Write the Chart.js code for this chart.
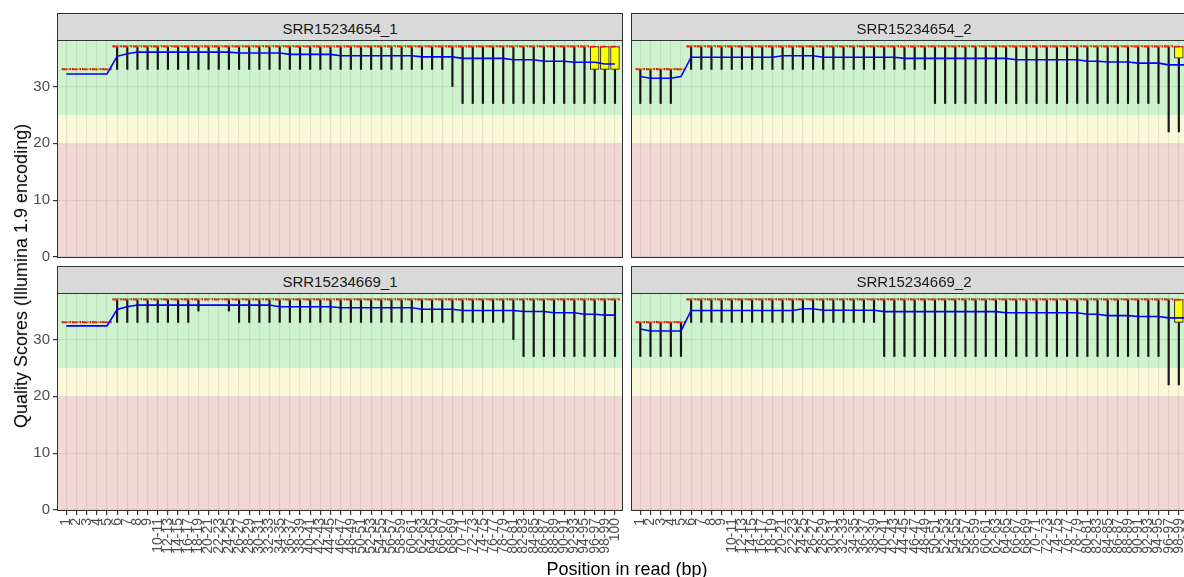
<!DOCTYPE html>
<html>
<head>
<meta charset="utf-8">
<script src="https://cdn.jsdelivr.net/npm/chart.js@4.4.1/dist/chart.umd.min.js"></script>
<style>
html,body{margin:0;padding:0;width:1184px;height:577px;overflow:hidden;background:#fff;font-family:"Liberation Sans",Arial,sans-serif;}
canvas{position:absolute;}
.strip{position:absolute;box-sizing:border-box;background:#D9D9D9;border:1px solid #333;height:28px;width:566px;
  font-size:15px;color:#1A1A1A;text-align:center;line-height:30px;white-space:nowrap;overflow:hidden;}
.title{position:absolute;font-size:18px;color:#000;white-space:nowrap;line-height:18px;}
</style>
</head>
<body>
<canvas id="c1" width="630" height="240" style="left:0;top:31px"></canvas>
<canvas id="c2" width="574" height="240" style="left:630px;top:31px"></canvas>
<canvas id="c3" width="630" height="293" style="left:0;top:284px"></canvas>
<canvas id="c4" width="574" height="293" style="left:630px;top:284px"></canvas>
<div class="strip" style="left:57px;top:13px;">SRR15234654_1</div>
<div class="strip" style="left:631px;top:13px;">SRR15234654_2</div>
<div class="strip" style="left:57px;top:266px;">SRR15234669_1</div>
<div class="strip" style="left:631px;top:266px;">SRR15234669_2</div>
<div class="title" style="left:627px;top:560px;transform:translateX(-50%);">Position in read (bp)</div>
<div class="title" style="left:21px;top:276px;transform:translate(-50%,-50%) rotate(-90deg);">Quality Scores (Illumina 1.9 encoding)</div>
<script>
// ---------- data ----------
const positions = ["1","2","3","4","5","6","7","8","9","10-11","12-13","14-15","16-17","18-19","20-21","22-23","24-25","26-27","28-29","30-31","32-33","34-35","36-37","38-39","40-41","42-43","44-45","46-47","48-49","50-51","52-53","54-55","56-57","58-59","60-61","62-63","64-65","66-67","68-69","70-71","72-73","74-75","76-77","78-79","80-81","82-83","84-85","86-87","88-89","90-91","92-93","94-95","96-97","98-99","100"];

// median (also upper quartile and 90th percentile in every panel)
const medianAll = [33,33,33,33,33,37,37,37,37,37, 37,37,37,37,37,37,37,37,37,37, 37,37,37,37,37,37,37,37,37,37, 37,37,37,37,37,37,37,37,37,37, 37,37,37,37,37,37,37,37,37,37, 37,37,37,37,37];

// SRR15234654_1
const s1_mean = [32.2,32.2,32.2,32.2,32.2,35.3,35.75,36.05,36.05,36.05, 36.05,36.05,36.05,36.05,36.05,36.05,36.05,35.9,35.9,35.9, 35.9,35.9,35.65,35.65,35.65,35.65,35.65,35.4,35.4,35.4, 35.4,35.4,35.4,35.4,35.4,35.2,35.2,35.2,35.2,34.95, 34.95,34.95,34.95,34.95,34.7,34.7,34.7,34.45,34.45,34.45, 34.25,34.25,34.25,33.95,33.95];
const s1_q1 = [33,33,33,33,33,37,37,37,37,37, 37,37,37,37,37,37,37,37,37,37, 37,37,37,37,37,37,37,37,37,37, 37,37,37,37,37,37,37,37,37,37, 37,37,37,37,37,37,37,37,37,37, 37,37,33,33,33];
const s1_p10 = [33,33,33,33,33,33,33,33,33,33, 33,33,33,33,33,33,33,33,33,33, 33,33,33,33,33,33,33,33,33,33, 33,33,33,33,33,33,33,33,30,27, 27,27,27,27,27,27,27,27,27,27, 27,27,27,27,27];

// SRR15234654_2
const s2_mean = [31.75,31.45,31.45,31.45,31.75,35.15,35.15,35.15,35.15,35.15, 35.15,35.15,35.15,35.15,35.4,35.4,35.4,35.4,35.15,35.15, 35.15,35.15,35.15,35.15,35.15,35.15,34.95,34.95,34.95,34.95, 34.95,34.95,34.95,34.95,34.95,34.95,34.95,34.7,34.7,34.7, 34.7,34.7,34.7,34.7,34.45,34.45,34.3,34.3,34.3,34.1, 34.1,34.1,33.8,33.8,33.8];
const s2_q1 = [33,33,33,33,33,37,37,37,37,37, 37,37,37,37,37,37,37,37,37,37, 37,37,37,37,37,37,37,37,37,37, 37,37,37,37,37,37,37,37,37,37, 37,37,37,37,37,37,37,37,37,37, 37,37,37,35,35];
const s2_p10 = [27,27,27,27,33,33,33,33,33,33, 33,33,33,33,33,33,33,33,33,33, 33,33,33,33,33,33,33,33,33,27, 27,27,27,27,27,27,27,27,27,27, 27,27,27,27,27,27,27,27,27,27, 27,27,22,22,22];

// SRR15234669_1
const s3_mean = [32.4,32.4,32.4,32.4,32.4,35.27,35.75,36.05,36.05,36.05, 36.05,36.05,36.05,36.05,36.05,36.05,36.05,36.05,36.05,36.05, 36.05,35.75,35.75,35.75,35.75,35.75,35.75,35.57,35.57,35.57, 35.57,35.57,35.57,35.57,35.57,35.33,35.33,35.33,35.33,35.1, 35.1,35.1,35.1,35.1,35.1,34.92,34.92,34.92,34.69,34.69, 34.69,34.45,34.45,34.28,34.28];
const s3_q1 = medianAll;
const s3_p10 = [33,33,33,33,33,33,33,33,33,33, 33,33,33,35,37,37,35,33,33,33, 33,33,33,33,33,33,33,33,33,33, 33,33,33,33,33,33,33,33,33,33, 33,33,33,33,30,27,27,27,27,27, 27,27,27,27,27];

// SRR15234669_2
const s4_mean = [31.85,31.5,31.5,31.5,31.5,35.1,35.1,35.1,35.1,35.1, 35.1,35.1,35.1,35.1,35.1,35.1,35.4,35.4,35.15,35.15, 35.15,35.15,35.15,35.15,34.9,34.9,34.9,34.9,34.9,34.9, 34.9,34.9,34.9,34.9,34.9,34.9,34.7,34.7,34.7,34.7, 34.7,34.7,34.7,34.7,34.45,34.45,34.2,34.2,34.2,34.05, 34.05,34.05,33.8,33.8,33.8];
const s4_q1 = [33,33,33,33,33,37,37,37,37,37, 37,37,37,37,37,37,37,37,37,37, 37,37,37,37,37,37,37,37,37,37, 37,37,37,37,37,37,37,37,37,37, 37,37,37,37,37,37,37,37,37,37, 37,37,37,33,33];
const s4_p10 = [27,27,27,27,27,33,33,33,33,33, 33,33,33,33,33,33,33,33,33,33, 33,33,33,33,27,27,27,27,27,27, 27,27,27,27,27,27,27,27,27,27, 27,27,27,27,27,27,27,27,27,27, 27,27,22,22,22];

const bandBreaks = [0, 20, 25, 38];
const bandColors = ["#F3D6D6", "#F9F8D9", "#CDF2CD"];

// ---------- drawing ----------
Chart.defaults.font.family = '"Liberation Sans", Arial, sans-serif';

const panelDecor = {
  id: 'panelDecor',
  beforeDraw(chart) {
    const {ctx, chartArea: a, scales: {y}} = chart;
    ctx.save();
    for (let i = 0; i < bandColors.length; i++) {
      const yTop = y.getPixelForValue(bandBreaks[i + 1]);
      const yBot = y.getPixelForValue(bandBreaks[i]);
      ctx.fillStyle = bandColors[i];
      ctx.fillRect(a.left, yTop, a.right - a.left, yBot - yTop);
    }
    ctx.restore();
  },
  afterDraw(chart) {
    const {ctx, chartArea: a} = chart;
    ctx.save();
    ctx.strokeStyle = '#333';
    ctx.lineWidth = 1;
    const l = Math.round(a.left), t = Math.round(a.top), r = Math.round(a.right), b = Math.round(a.bottom);
    ctx.strokeRect(l - 0.5, t - 0.5, r - l + 1, b - t + 1);
    ctx.restore();
  }
};

function medianSegments(med) {
  const out = [];
  med.forEach((v, i) => {
    out.push({x: i - 0.45, y: v}, {x: i + 0.45, y: v}, {x: i + 0.5, y: null});
  });
  return out;
}

function makeChart(id, mean, median, q1, q3, p10, p90, opt) {
  const gridColor = 'rgba(0,0,0,0.07)';
  return new Chart(document.getElementById(id), {
    type: 'bar',
    data: {
      datasets: [
        {type: 'line', data: mean.map((v, i) => ({x: i, y: v})), borderColor: '#0000FF', borderWidth: 1.6,
         pointRadius: 0, tension: 0, order: 0},
        {type: 'line', data: medianSegments(median), borderColor: '#FF1A1A', borderWidth: 1.8,
         borderDash: [5, 3], pointRadius: 0, spanGaps: false, order: 1},
        {type: 'bar', data: q1.map((v, i) => ({x: i, y: [v, q3[i]]})), backgroundColor: '#FFFF00',
         borderColor: '#1A1A1A', borderWidth: 1, borderSkipped: false, barThickness: 8.8, minBarLength: 1,
         grouped: false, order: 2},
        {type: 'bar', data: p10.map((v, i) => ({x: i, y: [v, p90[i]]})), backgroundColor: '#151515',
         borderWidth: 0, barThickness: 1.5, grouped: false, order: 3}
      ]
    },
    options: {
      responsive: false, animation: false, devicePixelRatio: 1,
      layout: {padding: {top: 10, bottom: opt.bottomPad, left: opt.leftPad, right: 8}},
      plugins: {legend: {display: false}, tooltip: {enabled: false}},
      scales: {
        x: {
          type: 'linear', min: -0.82, max: 54.69, offset: false,
          grid: {offset: false, color: gridColor, lineWidth: 1.2, drawTicks: opt.showX, tickLength: 5, tickColor: '#333'},
          border: {display: false},
          ticks: {display: opt.showX, stepSize: 1, autoSkip: false, includeBounds: false,
                  maxRotation: 90, minRotation: 90, padding: 3, color: '#4D4D4D', font: {size: 14},
                  callback: (v) => positions[v]},
          afterFit: (s) => { s.height = opt.xHeight; s.paddingLeft = 0; s.paddingRight = 0; }
        },
        y: {
          min: 0, max: 38,
          grid: {color: gridColor, lineWidth: 1.2, drawTicks: opt.showY, tickLength: 5, tickColor: '#333'},
          border: {display: false},
          ticks: {display: opt.showY, stepSize: 10, includeBounds: false, padding: 3, color: '#4D4D4D', font: {size: 15}},
          afterFit: (s) => { s.width = opt.yWidth; s.paddingTop = 0; s.paddingBottom = 0; }
        }
      }
    },
    plugins: [panelDecor]
  });
}

makeChart('c1', s1_mean, medianAll, s1_q1, medianAll, s1_p10, medianAll,
  {showX: false, showY: true, xHeight: 0, yWidth: 58, leftPad: 0, bottomPad: 14});
makeChart('c2', s2_mean, medianAll, s2_q1, medianAll, s2_p10, medianAll,
  {showX: false, showY: false, xHeight: 0, yWidth: 0, leftPad: 2, bottomPad: 14});
makeChart('c3', s3_mean, medianAll, s3_q1, medianAll, s3_p10, medianAll,
  {showX: true, showY: true, xHeight: 67, yWidth: 58, leftPad: 0, bottomPad: 0});
makeChart('c4', s4_mean, medianAll, s4_q1, medianAll, s4_p10, medianAll,
  {showX: true, showY: false, xHeight: 67, yWidth: 0, leftPad: 2, bottomPad: 0});
</script>
</body>
</html>
